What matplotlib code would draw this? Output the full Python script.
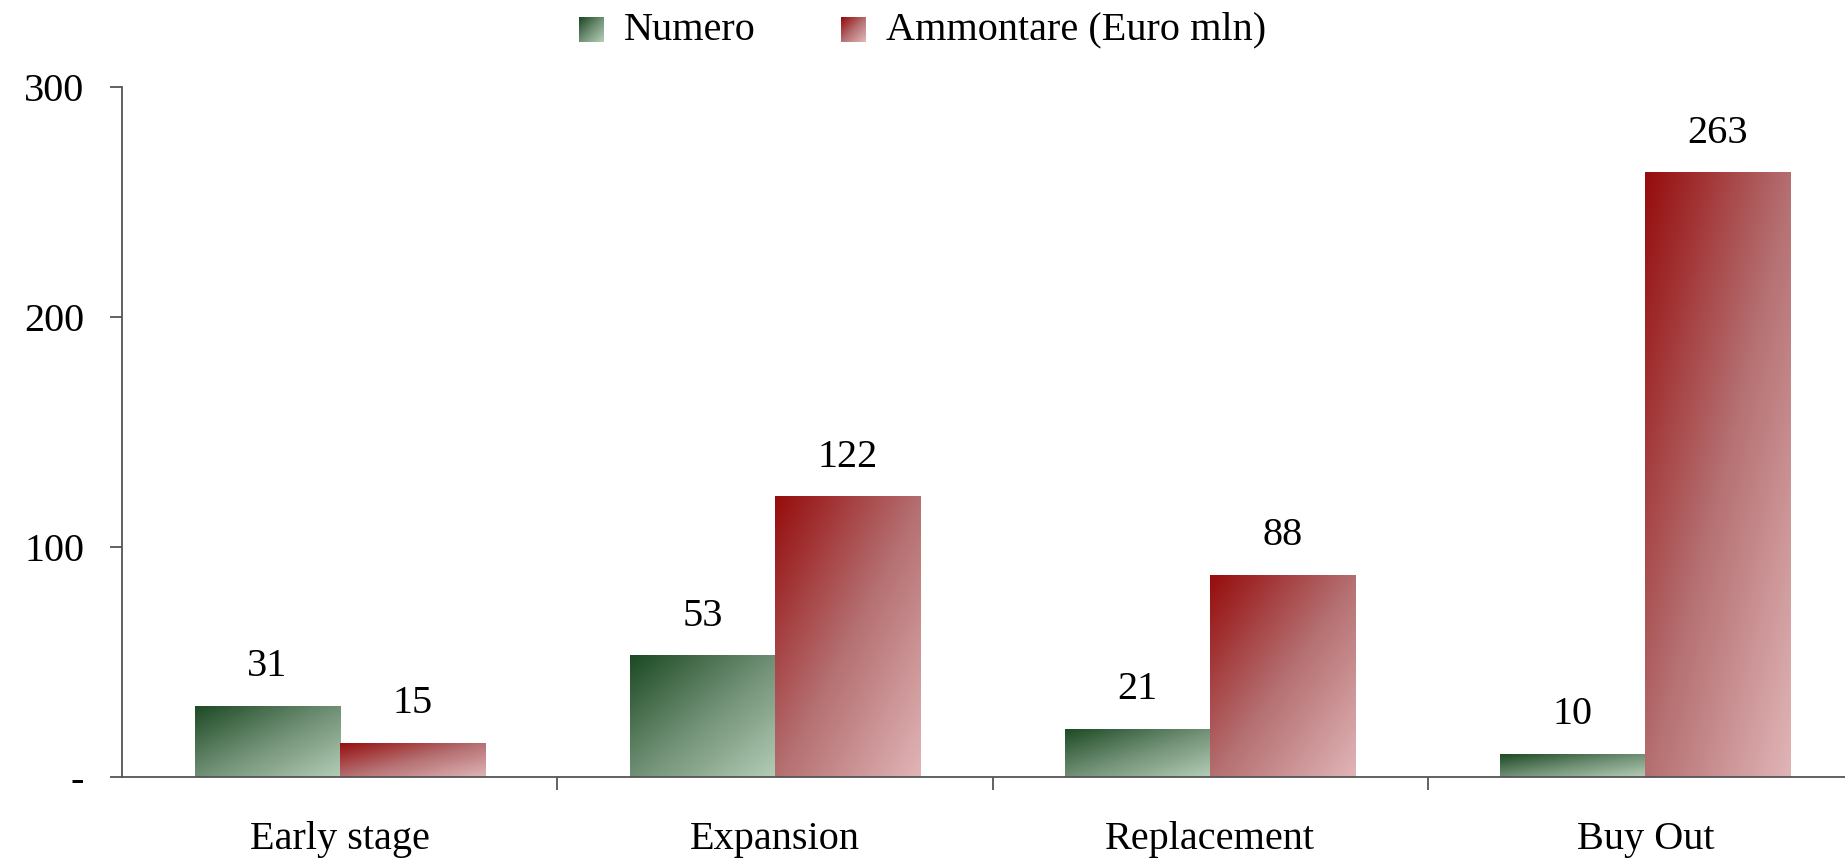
import matplotlib
matplotlib.use("Agg")
import matplotlib.pyplot as plt
import numpy as np
from matplotlib.colors import LinearSegmentedColormap
from matplotlib.offsetbox import AnchoredOffsetbox, HPacker, TextArea, OffsetImage

categories = ["Early stage", "Expansion", "Replacement", "Buy Out"]
numero = [31, 53, 21, 10]
ammontare = [15, 122, 88, 263]
series_names = ["Numero", "Ammontare (Euro mln)"]
yticks = [0, 100, 200, 300]
ytick_labels = ["-", "100", "200", "300"]

plt.rcParams['font.family'] = ['Liberation Serif', 'DejaVu Serif']
FS = 29

W, H = 1845, 863
fig = plt.figure(figsize=(W / 100, H / 100), dpi=100)
left, right = 122 / W, 1863 / W
bottom, top = 1 - 777 / H, 1 - 87 / H
ax = fig.add_axes([left, bottom, right - left, top - bottom])

green_cmap = LinearSegmentedColormap.from_list("g", ["#1d4a24", "#6f8f74", "#b3ccb5"])
red_cmap = LinearSegmentedColormap.from_list("r", ["#960d0d", "#b46e70", "#e0b4b6"])

x = np.arange(len(categories))
bw = 1 / 3

def grad_bar(xc, h, cmap):
    b = ax.bar(xc, h, width=bw, color="none", edgecolor="none", zorder=2)[0]
    gx, gy = np.meshgrid(np.linspace(0, 1, 64), np.linspace(0, 1, 64))
    t = (gx + gy) / 2
    im = ax.imshow(t, cmap=cmap, vmin=0, vmax=1, aspect="auto",
                   extent=[xc - bw / 2, xc + bw / 2, 0, h], origin="upper",
                   zorder=2, interpolation="bilinear")
    im.set_clip_path(b)
    return b

for i in range(len(categories)):
    grad_bar(x[i] - bw / 2, numero[i], green_cmap)
    grad_bar(x[i] + bw / 2, ammontare[i], red_cmap)
    ax.annotate(str(numero[i]), (x[i] - bw / 2, numero[i]), xytext=(0, 39),
                textcoords="offset pixels", ha="center", va="center", fontsize=FS)
    ax.annotate(str(ammontare[i]), (x[i] + bw / 2, ammontare[i]), xytext=(0, 39),
                textcoords="offset pixels", ha="center", va="center", fontsize=FS)

ax.set_xlim(-0.5, len(categories) - 0.5)
ax.set_ylim(0, 300)

for s in ["top", "right"]:
    ax.spines[s].set_visible(False)
for s in ["left", "bottom"]:
    ax.spines[s].set_color("#555555")
    ax.spines[s].set_linewidth(1.3)

ax.set_yticks(yticks)
ax.set_yticklabels(ytick_labels, fontsize=FS)
ax.tick_params(axis="y", direction="out", length=9, width=1.3, color="#555555", pad=18)

ax.set_xticks(np.arange(len(categories)) + 0.5, minor=False)
ax.set_xticklabels([])
ax.tick_params(axis="x", which="major", direction="out", length=9, width=1.3, color="#555555")
ax.set_xticks(x, minor=True)
ax.set_xticklabels(categories, minor=True, fontsize=FS)
ax.tick_params(axis="x", which="minor", length=0, pad=32)

items = []
for cmap, name in [(green_cmap, series_names[0]), (red_cmap, series_names[1])]:
    gx, gy = np.meshgrid(np.linspace(0, 1, 18), np.linspace(0, 1, 18))
    img = cmap((gx + gy) / 2)
    oi = OffsetImage(img, zoom=1.0)
    ta = TextArea(name, textprops=dict(fontsize=FS))
    items.append(HPacker(children=[oi, ta], align="center", pad=0, sep=14))
box = HPacker(children=items, align="center", pad=0, sep=62)
ab = AnchoredOffsetbox(loc="center", child=box, frameon=False,
                       bbox_to_anchor=(0.5, 1 - 30 / H), bbox_transform=fig.transFigure)
fig.add_artist(ab)

fig.savefig("out.png", dpi=100)
